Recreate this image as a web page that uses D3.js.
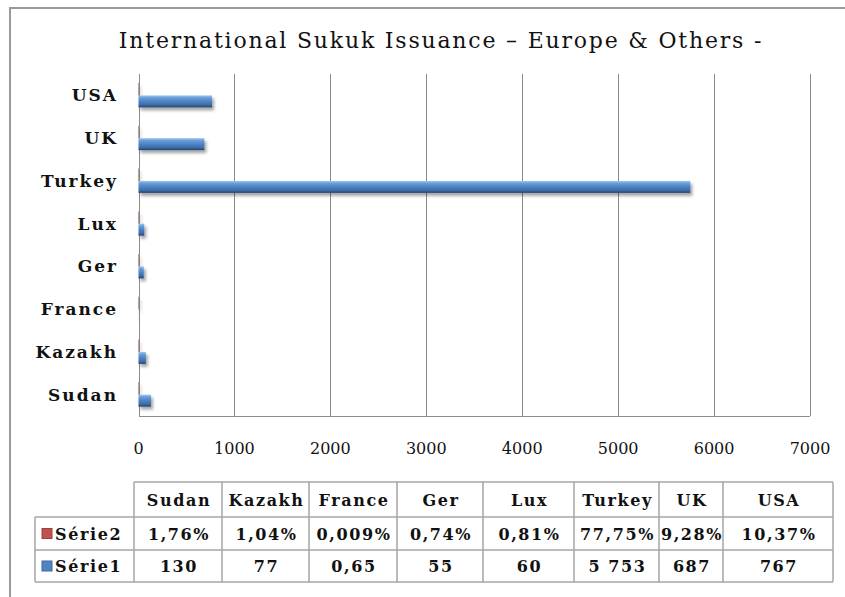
<!DOCTYPE html>
<meta charset="utf-8">
<head>
<style>
body { margin: 0; background: #fff; }
svg { display: block; font-family: "DejaVu Serif", serif; }
.grid line { stroke: #8c8c8c; stroke-width: 1px; shape-rendering: crispEdges; }
.tick-label { font-size: 16px; fill: #111; }
.cat-label { font-size: 17px; font-weight: bold; fill: #111; letter-spacing: 2px; }
.cell { font-size: 16px; font-weight: bold; fill: #111; letter-spacing: 1.6px; }
.tbl line { stroke: #a6a6a6; stroke-width: 1.5px; }
</style>
<script src="https://d3js.org/d3.v7.min.js"></script>
</head>
<body>
<div id="chart"></div>
<script>

// data
var categories = ["Sudan", "Kazakh", "France", "Ger", "Lux", "Turkey", "UK", "USA"];
var serie1 = [130, 77, 0.65, 55, 60, 5753, 687, 767];
var serie2 = [0.0176, 0.0104, 0.00009, 0.0074, 0.0081, 0.7775, 0.0928, 0.1037];
var serie1Labels = ["130", "77", "0,65", "55", "60", "5 753", "687", "767"];
var serie2Labels = ["1,76%", "1,04%", "0,009%", "0,74%", "0,81%", "77,75%", "9,28%", "10,37%"];
var seriesNames = ["Série2", "Série1"];
var xTicks = [0, 1000, 2000, 3000, 4000, 5000, 6000, 7000];
var title = "International Sukuk Issuance – Europe & Others -";

var W = 845, H = 597;
var plot = {left: 138.5, right: 810, top: 74, bottom: 416};

var svg = d3.select("#chart").append("svg")
  .attr("width", W)
  .attr("height", H);

var defs = svg.append("defs");

function gradient(id, stops) {
  var g = defs.append("linearGradient").attr("id", id)
    .attr("x1", 0).attr("y1", 0).attr("x2", 0).attr("y2", 1);
  stops.forEach(function(s) {
    g.append("stop").attr("offset", s[0]).attr("stop-color", s[1]);
  });
}
gradient("blueBar", [["0%", "#a4c6f0"], ["20%", "#6a9ddc"], ["50%", "#4f83c2"], ["80%", "#3c6ba8"], ["100%", "#223f6b"]]);
gradient("redBar", [["0%", "#e79a98"], ["20%", "#d4605c"], ["50%", "#c0504d"], ["80%", "#a23c39"], ["100%", "#6e2220"]]);

var shadow = defs.append("filter").attr("id", "shadow")
  .attr("x", "-5%").attr("y", "-50%").attr("width", "120%").attr("height", "250%");
shadow.append("feDropShadow")
  .attr("dx", 2).attr("dy", 3).attr("stdDeviation", 1.8)
  .attr("flood-color", "#000").attr("flood-opacity", 0.35);

var colors = {"Série1": "url(#blueBar)", "Série2": "url(#redBar)"};
var keyColors = {"Série1": "#4f83c2", "Série2": "#c0504d"};

// outer frame
svg.append("path")
  .attr("d", "M10," + H + "V8H" + W)
  .attr("fill", "none")
  .attr("stroke", "#9a9a9a")
  .attr("stroke-width", 2);

svg.append("text")
  .attr("x", 441)
  .attr("y", 48)
  .attr("text-anchor", "middle")
  .style("font-size", "22px")
  .style("letter-spacing", "1.8px")
  .attr("fill", "#111")
  .text(title);

var x = d3.scaleLinear()
  .domain([0, 7000])
  .range([plot.left, plot.right]);

var y = d3.scaleBand()
  .domain(categories.slice().reverse())
  .range([plot.top, plot.bottom]);

var ySub = d3.scaleBand()
  .domain(seriesNames)
  .range([-12, 12]);

// gridlines
var grid = svg.append("g").attr("class", "grid");
grid.selectAll("line.v")
  .data(xTicks)
  .enter().append("line")
    .attr("x1", function(d) { return Math.round(x(d)) + 0.5; })
    .attr("x2", function(d) { return Math.round(x(d)) + 0.5; })
    .attr("y1", plot.top)
    .attr("y2", plot.bottom);
grid.append("line")
  .attr("x1", plot.left).attr("x2", plot.right)
  .attr("y1", plot.bottom + 0.5).attr("y2", plot.bottom + 0.5);

svg.selectAll(".tick-label")
  .data(xTicks)
  .enter().append("text")
    .attr("class", "tick-label")
    .attr("x", function(d) { return x(d); })
    .attr("y", 454)
    .attr("text-anchor", "middle")
    .text(function(d) { return d; });

svg.selectAll(".cat-label")
  .data(categories)
  .enter().append("text")
    .attr("class", "cat-label")
    .attr("x", 118)
    .attr("y", function(d) { return y(d) + y.bandwidth() / 2 + 6; })
    .attr("text-anchor", "end")
    .text(function(d) { return d; });

// bars
var barData = [];
categories.forEach(function(c, i) {
  barData.push({cat: c, series: "Série2", value: serie2[i]});
  barData.push({cat: c, series: "Série1", value: serie1[i]});
});

svg.append("g")
  .attr("filter", "url(#shadow)")
  .selectAll("rect")
  .data(barData)
  .enter().append("rect")
    .attr("x", x(0))
    .attr("y", function(d) { return y(d.cat) + y.bandwidth() / 2 + ySub(d.series); })
    .attr("width", function(d) { return Math.max(0, x(d.value) - x(0)); })
    .attr("height", ySub.bandwidth())
    .attr("fill", function(d) { return colors[d.series]; })
    .attr("stroke", function(d) { return d.series == "Série2" ? "#b88" : "none"; })
    .attr("stroke-width", 0.8);

// data table
var colWidths = [88, 87, 88, 86, 91, 85, 64, 110];
var colEdges = [134];
colWidths.forEach(function(w) { colEdges.push(colEdges[colEdges.length - 1] + w); });
var rowEdges = [482, 517, 550, 582];
var legendLeft = 35;

var tbl = svg.append("g").attr("class", "tbl");
tbl.append("line").attr("x1", colEdges[0]).attr("x2", colEdges[8]).attr("y1", rowEdges[0]).attr("y2", rowEdges[0]);
rowEdges.slice(1).forEach(function(r) {
  tbl.append("line").attr("x1", legendLeft).attr("x2", colEdges[8]).attr("y1", r).attr("y2", r);
});
colEdges.forEach(function(c) {
  tbl.append("line").attr("x1", c).attr("x2", c).attr("y1", rowEdges[0]).attr("y2", rowEdges[3]);
});
tbl.append("line").attr("x1", legendLeft).attr("x2", legendLeft).attr("y1", rowEdges[1]).attr("y2", rowEdges[3]);

var rows = [categories, serie2Labels, serie1Labels];
rows.forEach(function(row, r) {
  svg.selectAll(".row" + r)
    .data(row)
    .enter().append("text")
      .attr("class", "cell row" + r)
      .attr("x", function(d, i) { return (colEdges[i] + colEdges[i + 1]) / 2 + 1; })
      .attr("y", (rowEdges[r] + rowEdges[r + 1]) / 2 + 6)
      .attr("text-anchor", "middle")
      .text(function(d) { return d; });
});

// legend keys in the row headers
var keys = svg.append("g");
keys.selectAll("rect")
  .data(seriesNames)
  .enter().append("rect")
    .attr("x", 42)
    .attr("y", function(d, i) { return (rowEdges[i + 1] + rowEdges[i + 2]) / 2 - 5; })
    .attr("width", 10)
    .attr("height", 10)
    .attr("fill", function(d) { return keyColors[d]; })
    .attr("stroke", function(d) { return d3.color(keyColors[d]).darker(0.6); })
    .attr("stroke-width", 1);
keys.selectAll("text")
  .data(seriesNames)
  .enter().append("text")
    .attr("class", "cell")
    .attr("x", 55)
    .attr("y", function(d, i) { return (rowEdges[i + 1] + rowEdges[i + 2]) / 2 + 6; })
    .text(function(d) { return d; });

</script>
</body>
</html>
